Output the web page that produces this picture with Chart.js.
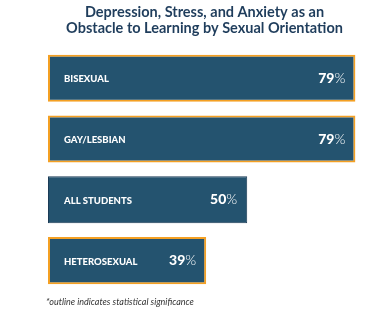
<!DOCTYPE html>
<html>
<head>
<meta charset="utf-8">
<script src="https://cdn.jsdelivr.net/npm/chart.js@4"></script>
<style>
  html, body { margin: 0; padding: 0; background: #fff; }
  #wrap { position: relative; width: 373px; height: 327px; }
</style>
</head>
<body>
<div id="wrap"><canvas id="chart"></canvas></div>
<script>
const groups = ['BISEXUAL', 'GAY/LESBIAN', 'ALL STUDENTS', 'HETEROSEXUAL'];
const shares = [79, 79, 50, 39];
const significant = [true, true, false, true];
const titleLines = ['Depression, Stress, and Anxiety as an', 'Obstacle to Learning by Sexual Orientation'];
const footnote = '*outline indicates statistical significance';

// group name on the left, value on the right (bold number + light %)
const barText = {
  id: 'barText',
  afterDatasetsDraw(chart) {
    const ctx = chart.ctx;
    const meta = chart.getDatasetMeta(0);
    ctx.save();
    ctx.fillStyle = '#ffffff';
    ctx.textBaseline = 'middle';
    meta.data.forEach((bar, i) => {
      const left = bar.base;
      ctx.font = '900 9.5px Lato';
      ctx.textAlign = 'left';
      ctx.fillText(groups[i], left + 16, bar.y + 1);

      const right = bar.x - 10;
      ctx.font = '300 14px Lato';
      const pw = ctx.measureText('%').width;
      ctx.textAlign = 'right';
      ctx.fillText('%', right, bar.y);
      ctx.font = '900 14px Lato';
      ctx.fillText(String(shares[i]), right - pw, bar.y);
    });
    ctx.font = 'italic 9px Lato';
    ctx.fillStyle = '#333333';
    ctx.textAlign = 'left';
    ctx.fillText(footnote, 46, 302);
    ctx.restore();
  }
};

new Chart(document.getElementById('chart'), {
  type: 'bar',
  data: {
    labels: groups,
    datasets: [{
      data: shares,
      base: -3.4,
      backgroundColor: '#24536f',
      borderColor: significant.map(s => s ? '#f4a023' : '#1b3b56'),
      borderWidth: significant.map(s => s ? 2 : 1),
      borderSkipped: false,
      categoryPercentage: 0.86,
      barPercentage: 0.9
    }]
  },
  options: {
    indexAxis: 'y',
    responsive: true,
    maintainAspectRatio: false,
    animation: false,
    layout: { padding: { left: 48, right: 12, top: 0, bottom: 36 } },
    plugins: {
      legend: { display: false },
      tooltip: { enabled: false },
      title: {
        display: true,
        text: titleLines,
        color: '#1f3d5c',
        font: { family: 'Lato', size: 14.5, weight: 'bold', lineHeight: 1.1 },
        padding: { top: 4, bottom: 12 }
      }
    },
    scales: {
      x: { display: false, min: -3.4, max: 80.5 },
      y: { display: false }
    }
  },
  plugins: [barText]
});
</script>
</body>
</html>
